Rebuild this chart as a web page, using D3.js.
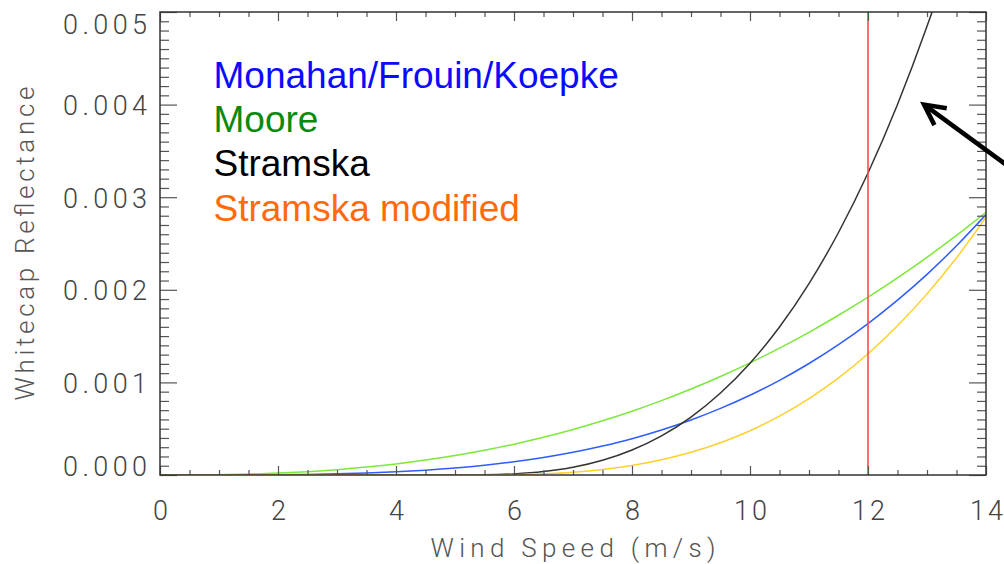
<!DOCTYPE html>
<html>
<head>
<meta charset="utf-8">
<script src="https://cdn.jsdelivr.net/npm/d3@7"></script>
<style>
  html, body { margin: 0; padding: 0; background: #fff; }
  svg { display: block; }
  .axis text { font-family: Roboto, "DejaVu Sans", sans-serif; font-weight: 300; fill: #444; }
  .axis line { stroke: #555; stroke-width: 1.2; }
  .axis .domain { display: none; }
  .title { font-family: Roboto, "DejaVu Sans", sans-serif; font-weight: 300; fill: #555; }
  .legend text { font-family: "Liberation Sans", Arial, sans-serif; }
</style>
</head>
<body>
<svg id="chart" width="1004" height="564"></svg>
<script>
// Wind speed samples (m/s)
const windSpeed = [0, 0.5, 1, 1.5, 2, 2.5, 3, 3.5, 4, 4.5, 5, 5.5, 6, 6.5, 7,
  7.5, 8, 8.5, 9, 9.5, 10, 10.5, 11, 11.5, 12, 12.5, 13, 13.5, 14];

// Whitecap reflectance for each parameterisation
const monahanFrouinKoepke = [0, 0.00000002, 0.00000026, 0.00000108, 0.00000298, 0.00000654,
  0.0000124, 0.0000214, 0.0000342, 0.0000518, 0.0000750, 0.000105, 0.000143, 0.000189,
  0.000245, 0.000313, 0.000392, 0.000486, 0.000594, 0.000719, 0.000861, 0.001022,
  0.001204, 0.001407, 0.001635, 0.001888, 0.002167, 0.002475, 0.002812];
const moore = [0, 0.00000062, 0.0000036, 0.0000100, 0.0000206, 0.0000363, 0.0000576,
  0.0000851, 0.000119, 0.000161, 0.000210, 0.000267, 0.000333, 0.000407, 0.000491,
  0.000585, 0.000689, 0.000803, 0.000928, 0.001064, 0.001211, 0.001370, 0.001541,
  0.001725, 0.001920, 0.002129, 0.002351, 0.002587, 0.002836];
const stramska = [0, 0, 0, 0, 0, 0, 0, 0, 0, 0, 0, 0.0000019, 0.0000118, 0.0000368,
  0.0000835, 0.000159, 0.000270, 0.000423, 0.000626, 0.000885, 0.001207, 0.001598,
  0.002067, 0.002619, 0.003261, 0.004001, 0.004845, 0.005800, 0.006870];
const stramskaModified = [0, 0, 0, 0, 0, 0, 0, 0, 0, 0, 0, 0.00000048, 0.0000038,
  0.0000129, 0.0000306, 0.0000597, 0.000103, 0.000164, 0.000245, 0.000348, 0.000478,
  0.000636, 0.000825, 0.001049, 0.001310, 0.001612, 0.001956, 0.002346, 0.002785];

// Tick values
const xMajorTicks = [0, 2, 4, 6, 8, 10, 12, 14];
const xMinorTicks = [0.5, 1, 1.5, 2.5, 3, 3.5, 4.5, 5, 5.5, 6.5, 7, 7.5, 8.5, 9, 9.5,
  10.5, 11, 11.5, 12.5, 13, 13.5];
const yMajorTicks = [0, 0.001, 0.002, 0.003, 0.004, 0.005];
const yMinorStep = 0.0001;

// Reference wind speed marker and annotation arrow (data units)
const markerSpeed = 12;
const arrowTip = [12.95, 0.00400];
const arrowTail = [14.58, 0.00324];

const legendNames = ["Monahan/Frouin/Koepke", "Moore", "Stramska", "Stramska modified"];

const plot = { left: 160, right: 986, top: 12, bottom: 475 };

const svg = d3.select("#chart");
const x = d3.scaleLinear().domain([0, 14]).range([plot.left, plot.right]);
const y = d3.scaleLinear().domain([0, 0.005]).range([plot.bottom, plot.top]);

svg.append("defs").append("clipPath").attr("id", "plotClip")
  .append("rect")
  .attr("x", plot.left).attr("y", plot.top)
  .attr("width", plot.right - plot.left).attr("height", plot.bottom - plot.top);

// Curves
const series = [
  { values: moore, color: "#7de83c" },
  { values: monahanFrouinKoepke, color: "#2f5cff" },
  { values: stramska, color: "#333333" },
  { values: stramskaModified, color: "#ffd02c" }
];
const line = d3.line()
  .x((d, i) => x(windSpeed[i]))
  .y(d => y(d))
  .curve(d3.curveMonotoneX);

const curves = svg.append("g").attr("clip-path", "url(#plotClip)");
curves.selectAll("path").data(series).join("path")
  .attr("d", d => line(d.values))
  .attr("fill", "none")
  .attr("stroke", d => d.color)
  .attr("stroke-width", 1.5);

// Vertical marker
curves.append("line")
  .attr("x1", x(markerSpeed)).attr("x2", x(markerSpeed))
  .attr("y1", y(0)).attr("y2", y(0.005))
  .attr("stroke", "#ff4a4a").attr("stroke-width", 1.6);

// Axes: ticks point inward on all four sides
const minorY = d3.range(0, 51).map(i => +(i * yMinorStep).toFixed(4))
  .filter(v => !yMajorTicks.some(m => Math.abs(m - v) < 1e-9));

svg.append("g").attr("class", "axis")
  .attr("transform", `translate(0,${plot.bottom})`)
  .call(d3.axisBottom(x).tickValues(xMinorTicks).tickSize(-5).tickFormat(""));
const xAxis = svg.append("g").attr("class", "axis")
  .attr("transform", `translate(0,${plot.bottom})`)
  .call(d3.axisBottom(x).tickValues(xMajorTicks).tickSize(-9).tickFormat(d3.format("d")));
xAxis.selectAll("text")
  .attr("y", 45).attr("dy", null).attr("font-size", 27)
  .attr("textLength", d => d >= 10 ? 33 : null)
  .attr("lengthAdjust", "spacing");

svg.append("g").attr("class", "axis")
  .attr("transform", `translate(0,${plot.top})`)
  .call(d3.axisTop(x).tickValues(xMinorTicks).tickSize(-5).tickFormat(""));
svg.append("g").attr("class", "axis")
  .attr("transform", `translate(0,${plot.top})`)
  .call(d3.axisTop(x).tickValues(xMajorTicks).tickSize(-9).tickFormat(""));

svg.append("g").attr("class", "axis")
  .attr("transform", `translate(${plot.left},0)`)
  .call(d3.axisLeft(y).tickValues(minorY).tickSize(-9).tickFormat(""));
const yAxis = svg.append("g").attr("class", "axis")
  .attr("transform", `translate(${plot.left},0)`)
  .call(d3.axisLeft(y).tickValues(yMajorTicks).tickSize(-17).tickPadding(13)
    .tickFormat(d3.format(".3f")));
yAxis.selectAll("text")
  .attr("font-size", 27)
  .attr("dy", null)
  .attr("y", d => Math.max(33, Math.min(475, y(d) + 10)) - y(d))
  .attr("textLength", 84)
  .attr("lengthAdjust", "spacing");

svg.append("g").attr("class", "axis")
  .attr("transform", `translate(${plot.right},0)`)
  .call(d3.axisRight(y).tickValues(minorY).tickSize(-9).tickFormat(""));
svg.append("g").attr("class", "axis")
  .attr("transform", `translate(${plot.right},0)`)
  .call(d3.axisRight(y).tickValues(yMajorTicks).tickSize(-17).tickFormat(""));

// Frame
svg.append("rect")
  .attr("x", plot.left).attr("y", plot.top)
  .attr("width", plot.right - plot.left).attr("height", plot.bottom - plot.top)
  .attr("fill", "none").attr("stroke", "#333").attr("stroke-width", 1.5);

// Axis titles
svg.append("text").attr("class", "title")
  .attr("x", (plot.left + plot.right) / 2).attr("y", 557)
  .attr("text-anchor", "middle").attr("font-size", 26)
  .attr("textLength", 285).attr("lengthAdjust", "spacing")
  .text("Wind Speed (m/s)");
svg.append("text").attr("class", "title")
  .attr("transform", `translate(34,${(plot.top + plot.bottom) / 2}) rotate(-90)`)
  .attr("text-anchor", "middle").attr("font-size", 26)
  .attr("textLength", 314).attr("lengthAdjust", "spacing")
  .text("Whitecap Reflectance");

// Legend
const legendColors = ["#0a0aff", "#0a8a0a", "#000000", "#ff6a0a"];
const legendBaselines = [88, 132, 176, 220.5];
svg.append("g").attr("class", "legend")
  .selectAll("text").data(legendNames).join("text")
  .attr("x", 213.5)
  .attr("y", (d, i) => legendBaselines[i])
  .attr("font-size", 37)
  .attr("fill", (d, i) => legendColors[i])
  .text(d => d);

// Annotation arrow
const tip = [x(arrowTip[0]), y(arrowTip[1])];
const tail = [x(arrowTail[0]), y(arrowTail[1])];
const ang = Math.atan2(tail[1] - tip[1], tail[0] - tip[0]);
const wing = 23, spread = 27 * Math.PI / 180;
const w1 = [tip[0] + wing * Math.cos(ang - spread), tip[1] + wing * Math.sin(ang - spread)];
const w2 = [tip[0] + wing * Math.cos(ang + spread), tip[1] + wing * Math.sin(ang + spread)];
const arrow = svg.append("g").attr("stroke", "#000").attr("stroke-width", 4.5)
  .attr("fill", "none").attr("stroke-linecap", "butt");
arrow.append("line")
  .attr("x1", tail[0]).attr("y1", tail[1]).attr("x2", tip[0]).attr("y2", tip[1]);
arrow.append("path")
  .attr("d", d3.line()([w1, tip, w2]))
  .attr("stroke-linejoin", "miter");
</script>
</body>
</html>
